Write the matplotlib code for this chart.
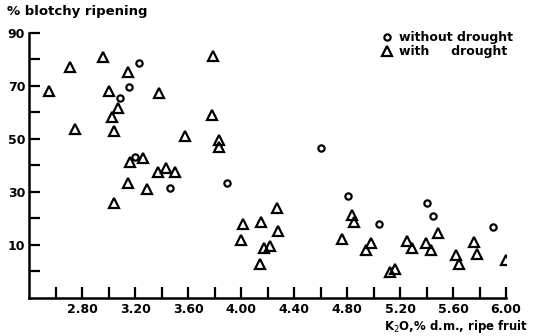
import matplotlib
matplotlib.use('Agg')
import matplotlib.pyplot as plt
import numpy as np

# K2O (% d.m., ripe fruit) vs % blotchy ripening
x_without = [3.23, 3.15, 3.085, 3.20, 3.465, 3.89, 4.60, 4.81, 5.04, 5.40, 5.445, 5.90]
y_without = [78.5, 69.7, 65.4, 43.2, 31.3, 33.2, 46.4, 28.4, 18.0, 25.6, 20.9, 16.7]

x_with = [2.547, 2.705, 2.96, 3.147, 3.003, 3.072, 3.023, 2.747, 3.042, 3.79,
          3.38, 3.78, 3.573, 3.835, 3.835, 3.16, 3.26, 3.372, 3.435, 3.503,
          3.143, 3.29, 3.04, 4.273, 4.01, 4.153, 4.278, 3.998, 4.173, 4.218,
          4.14, 4.84, 4.855, 4.765, 4.978, 4.94, 5.253, 5.29, 5.123, 5.16,
          5.486, 5.398, 5.43, 5.761, 5.78, 5.623, 5.648, 6.00]
y_with = [68.2, 77.0, 81.0, 75.2, 68.2, 61.5, 58.3, 53.8, 53.0, 81.4,
          67.4, 59.0, 51.0, 49.5, 46.8, 41.3, 42.6, 37.5, 38.8, 37.5,
          33.5, 30.9, 25.8, 23.7, 17.7, 18.6, 15.2, 11.7, 8.6, 9.5,
          2.9, 21.2, 18.6, 12.0, 10.5, 7.9, 11.3, 8.8, -0.3, 1.0,
          14.3, 10.8, 8.2, 11.1, 6.4, 6.0, 2.6, 4.2]

x_ticks = [2.80, 3.20, 3.60, 4.00, 4.40, 4.80, 5.20, 5.60, 6.00]
y_ticks = [10, 30, 50, 70, 90]

fig = plt.figure(figsize=(5.34, 3.36), dpi=100)
ax = fig.add_axes([0.0549, 0.114, 0.8927, 0.788])

ax.plot(x_without, y_without, linestyle='none', marker='o', markersize=4.5,
        markerfacecolor='none', markeredgecolor='black', markeredgewidth=1.6,
        label='without drought')
ax.plot(x_with, y_with, linestyle='none', marker='^', markersize=7,
        markerfacecolor='none', markeredgecolor='black', markeredgewidth=1.6,
        label='with     drought')

ax.set_xlim(2.40, 6.00)
ax.set_ylim(-10, 90)
ax.spines['top'].set_visible(False)
ax.spines['right'].set_visible(False)
ax.spines['left'].set_linewidth(1.8)
ax.spines['bottom'].set_linewidth(1.8)

ax.set_xticks(x_ticks)
ax.set_xticklabels(['%.2f' % v for v in x_ticks])
ax.set_xticks(np.arange(2.60, 6.01, 0.4), minor=True)
ax.set_yticks(y_ticks)
ax.set_yticks([0, 20, 40, 60, 80], minor=True)
ax.tick_params(which='both', direction='in', length=8, width=1.6, labelsize=9)
ax.tick_params(axis='x', pad=4)
ax.tick_params(axis='y', pad=3)
for lab in ax.get_xticklabels() + ax.get_yticklabels():
    lab.set_fontweight('bold')

fig.text(0.013, 0.955, '% blotchy ripening', fontsize=9.5, fontweight='bold')
fig.text(0.99, 0.018, 'K$_2$O,% d.m., ripe fruit', fontsize=8.5, fontweight='bold',
         ha='right')

ax.legend(loc='upper left', bbox_to_anchor=(374 / 534, 1 - 25 / 336),
          bbox_transform=fig.transFigure, frameon=False,
          handlelength=1.0, handletextpad=0.5, labelspacing=0.05, borderpad=0,
          prop={'weight': 'bold', 'size': 9})

plt.savefig('out.png', dpi=100, facecolor='w')
